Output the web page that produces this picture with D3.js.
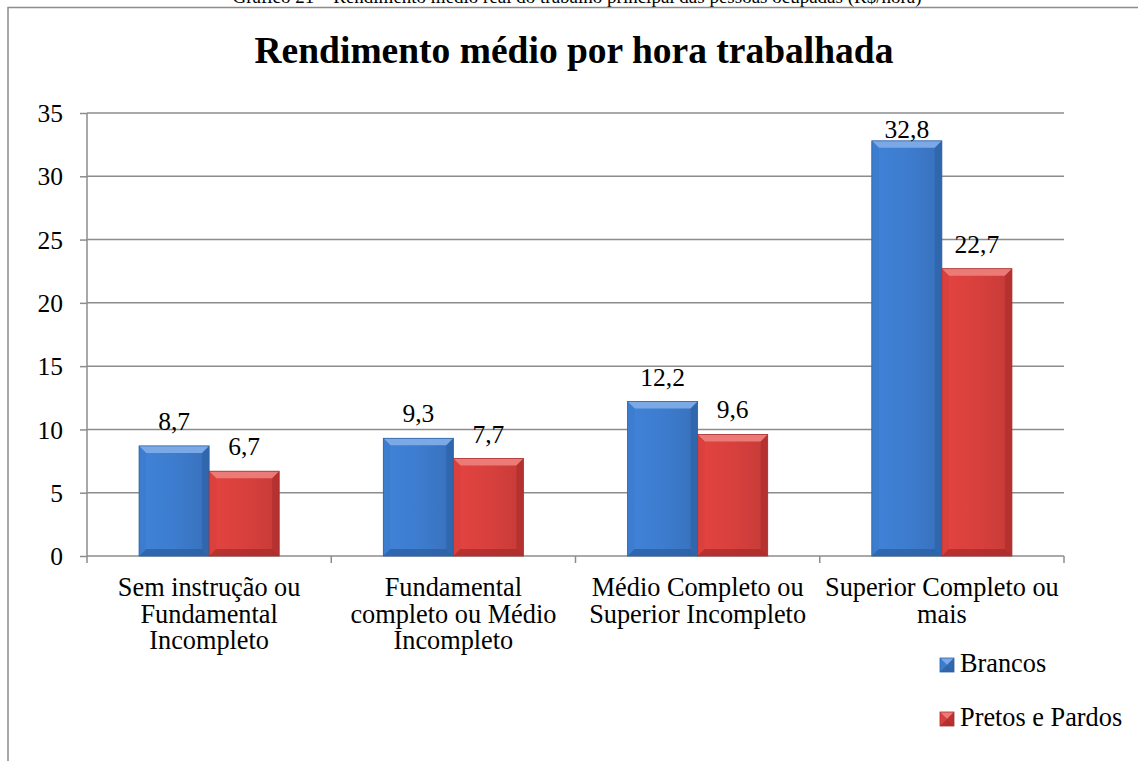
<!DOCTYPE html>
<html>
<head>
<meta charset="utf-8">
<script src="https://cdn.jsdelivr.net/npm/d3@7"></script>
<style>
  html, body { margin: 0; padding: 0; background: #fff; }
  svg { display: block; }
  svg text { font-family: "Liberation Serif", "Times New Roman", serif; }
</style>
</head>
<body>
<div id="chart"></div>
<script>
// data
const categories = [
    "Sem instrução ou Fundamental Incompleto",
    "Fundamental completo ou Médio Incompleto",
    "Médio Completo ou Superior Incompleto",
    "Superior Completo ou mais"
];
const categoryLines = [
    ["Sem instrução ou", "Fundamental", "Incompleto"],
    ["Fundamental", "completo ou Médio", "Incompleto"],
    ["Médio Completo ou", "Superior Incompleto"],
    ["Superior Completo ou", "mais"]
];
const seriesNames = ["Brancos", "Pretos e Pardos"];
const brancos = [8.7, 9.3, 12.2, 32.8];
const pretosPardos = [6.7, 7.7, 9.6, 22.7];
const yTicks = [0, 5, 10, 15, 20, 25, 30, 35];

const seriesValues = [brancos, pretosPardos];
const palette = {
    "Brancos": { base: "#3d7cce", light: "#7aa9e6", dark: "#2a5c9e", edge: "#2f62a5" },
    "Pretos e Pardos": { base: "#d8403d", light: "#ec7b77", dark: "#a52a28", edge: "#a83230" }
};

const W = 1138, H = 761;
const plot = { left: 87, right: 1064, top: 113, bottom: 556 };
const serif = '"Liberation Serif", "Times New Roman", serif';
const fmt = v => String(v).replace('.', ',');

const svg = d3.select('#chart').append('svg')
    .attr('width', W)
    .attr('height', H);

// gradients for the bevelled bars
const defs = svg.append('defs');
seriesNames.forEach((s, i) => {
    const c = palette[s];
    const g = defs.append('linearGradient')
        .attr('id', 'grad' + i)
        .attr('x1', 0).attr('x2', 1).attr('y1', 0).attr('y2', 0);
    g.append('stop').attr('offset', '0%').attr('stop-color', d3.color(c.base).brighter(0.15));
    g.append('stop').attr('offset', '50%').attr('stop-color', c.base);
    g.append('stop').attr('offset', '100%').attr('stop-color', d3.color(c.base).darker(0.25));
});

// caption of the page, cut off by the top edge (as in the source)
svg.append('text')
    .attr('x', 577)
    .attr('y', 3)
    .attr('text-anchor', 'middle')
    .style('font-size', '19px')
    .text('Gráfico 21 – Rendimento médio real do trabalho principal das pessoas ocupadas (R$/hora)');

// chart frame (runs off right and bottom)
svg.append('path')
    .attr('d', `M8,${H + 5} L8,7.5 L${W + 5},7.5`)
    .attr('fill', 'none')
    .attr('stroke', '#8c8c8c')
    .attr('stroke-width', 1.5);

// title
svg.append('text')
    .attr('x', 574)
    .attr('y', 63)
    .attr('text-anchor', 'middle')
    .style('font-size', '37.5px')
    .style('font-weight', 'bold')
    .text('Rendimento médio por hora trabalhada');

// scales
const x0 = d3.scaleBand()
    .domain(categories)
    .range([plot.left, plot.right])
    .padding(0);

const x1 = d3.scaleBand()
    .domain(seriesNames)
    .range([0, x0.bandwidth()])
    .paddingInner(0)
    .paddingOuter(0.743);

const y = d3.scaleLinear()
    .domain([0, 35])
    .range([plot.bottom, plot.top]);

// gridlines
svg.append('g')
    .selectAll('line')
    .data(yTicks.filter(t => t > 0))
    .enter()
    .append('line')
    .attr('x1', plot.left)
    .attr('x2', plot.right)
    .attr('y1', d => y(d))
    .attr('y2', d => y(d))
    .attr('stroke', '#8c8c8c')
    .attr('stroke-width', 1.5);

// y axis
const yAxis = svg.append('g')
    .attr('transform', `translate(${plot.left},0)`)
    .call(d3.axisLeft(y).tickValues(yTicks).tickSize(7).tickPadding(17))
    .attr('font-family', serif);
yAxis.select('.domain').remove();
yAxis.append('line')
    .attr('x1', 0).attr('x2', 0)
    .attr('y1', plot.top).attr('y2', plot.bottom + 7)
    .attr('stroke', '#8c8c8c').attr('stroke-width', 1.5);
yAxis.selectAll('.tick line').attr('stroke', '#8c8c8c').attr('stroke-width', 1.5);
yAxis.selectAll('.tick text')
    .attr('fill', '#000')
    .attr('dy', '0.34em')
    .style('font-family', serif)
    .style('font-size', '25.5px');

// x axis with boundary ticks
const xAxis = svg.append('g');
xAxis.append('line')
    .attr('x1', plot.left).attr('x2', plot.right)
    .attr('y1', plot.bottom).attr('y2', plot.bottom)
    .attr('stroke', '#8c8c8c').attr('stroke-width', 1.5);
xAxis.selectAll('line.bound')
    .data(categories.map(c => x0(c) + x0.bandwidth()))
    .enter()
    .append('line')
    .attr('class', 'bound')
    .attr('x1', d => d).attr('x2', d => d)
    .attr('y1', plot.bottom).attr('y2', plot.bottom + 7)
    .attr('stroke', '#8c8c8c').attr('stroke-width', 1.5);

xAxis.selectAll('text.cat')
    .data(categories)
    .enter()
    .append('text')
    .attr('class', 'cat')
    .attr('text-anchor', 'middle')
    .style('font-size', '26.3px')
    .each(function(d, i) {
        const t = d3.select(this);
        categoryLines[i].forEach((line, j) => {
            t.append('tspan')
                .attr('x', x0(d) + x0.bandwidth() / 2)
                .attr('y', 596 + j * 26.7)
                .text(line);
        });
    });

// bevelled bar
function drawBar(g, x, yTop, w, h, colors, gradId) {
    const b = Math.min(7, h / 2, w / 2);
    g.append('rect')
        .attr('x', x).attr('y', yTop)
        .attr('width', w).attr('height', h)
        .attr('fill', `url(#${gradId})`);
    // top bevel
    g.append('polygon')
        .attr('points', [[x, yTop], [x + w, yTop], [x + w - b, yTop + b], [x + b, yTop + b]].join(' '))
        .attr('fill', colors.light);
    // left bevel
    g.append('polygon')
        .attr('points', [[x, yTop], [x + b, yTop + b], [x + b, yTop + h - b], [x, yTop + h]].join(' '))
        .attr('fill', colors.base).attr('opacity', 0.85);
    // right bevel
    g.append('polygon')
        .attr('points', [[x + w, yTop], [x + w, yTop + h], [x + w - b, yTop + h - b], [x + w - b, yTop + b]].join(' '))
        .attr('fill', colors.dark).attr('opacity', 0.55);
    // bottom bevel
    g.append('polygon')
        .attr('points', [[x, yTop + h], [x + w, yTop + h], [x + w - b, yTop + h - b], [x + b, yTop + h - b]].join(' '))
        .attr('fill', colors.dark).attr('opacity', 0.7);
    g.append('rect')
        .attr('x', x).attr('y', yTop)
        .attr('width', w).attr('height', h)
        .attr('fill', 'none')
        .attr('stroke', colors.edge)
        .attr('stroke-width', 0.8);
}

const bars = svg.append('g');
categories.forEach((c, ci) => {
    seriesNames.forEach((s, si) => {
        const v = seriesValues[si][ci];
        const bx = x0(c) + x1(s);
        drawBar(bars.append('g'), bx, y(v), x1.bandwidth(), y(0) - y(v), palette[s], 'grad' + si);
        bars.append('text')
            .attr('x', bx + x1.bandwidth() / 2)
            .attr('y', Math.max(y(v) - 16, plot.top + 25))
            .attr('text-anchor', 'middle')
            .style('font-size', '25.5px')
            .text(fmt(v));
    });
});

// legend
const legend = svg.append('g');
seriesNames.forEach((s, i) => {
    const ly = 658 + i * 54;
    drawBar(legend.append('g'), 940, ly, 14, 14, palette[s], 'grad' + i);
    legend.append('text')
        .attr('x', 960)
        .attr('y', ly + 14)
        .style('font-size', '26.3px')
        .text(s);
});
</script>
</body>
</html>
